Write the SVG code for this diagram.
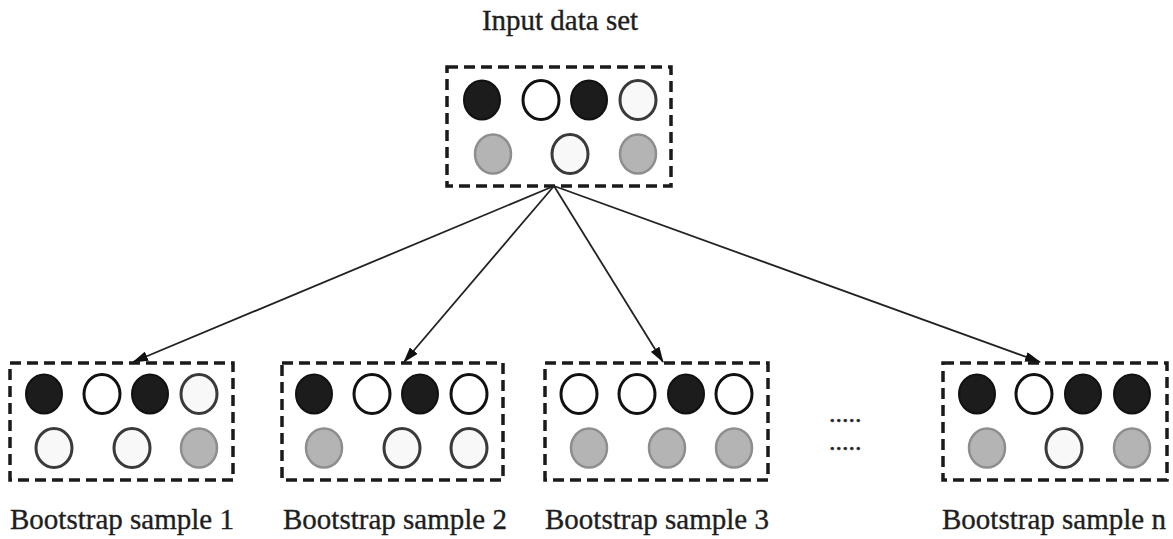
<svg xmlns="http://www.w3.org/2000/svg" width="1173" height="539" viewBox="0 0 1173 539">
  <style>
    .box { fill: none; stroke: #1a1a1a; stroke-width: 3.5; stroke-dasharray: 11 6; }
    .lbl { font-family: "Liberation Serif", "Times New Roman", serif; font-size: 29px; fill: #1e1e1e; stroke: #1e1e1e; stroke-width: 0.35; }
    .blk { fill: #1c1c1c; stroke: #111; stroke-width: 2; }
    .wht { fill: #fff; stroke: #111; stroke-width: 3; }
    .lgt { fill: #f8f8f8; stroke: #3a3a3a; stroke-width: 3; }
    .gry { fill: #b4b4b4; stroke: #8e8e8e; stroke-width: 2.5; }
    .edge { stroke: #222; stroke-width: 1.8; fill: none; marker-end: url(#arrow); }
    .dots { font-family: "Liberation Serif", serif; font-size: 26px; fill: #222; stroke: #222; stroke-width: 0.4; }
  </style>
  <defs>
    <marker id="arrow" viewBox="0 0 16 10" refX="15" refY="5" markerWidth="16" markerHeight="10" markerUnits="userSpaceOnUse" orient="auto">
      <path d="M0,0 L16,5 L0,10 Z" fill="#111"/>
    </marker>
  </defs>

  <rect width="1173" height="539" fill="#fff"/>

  <!-- source data set -->
  <g id="input">
    <text class="lbl" x="560" y="30" text-anchor="middle">Input data set</text>
    <rect class="box" x="447" y="67" width="224" height="119"/>
    <ellipse class="blk" cx="482" cy="100" rx="18" ry="19.5"/>
    <ellipse class="wht" cx="541" cy="100" rx="18" ry="19.5"/>
    <ellipse class="blk" cx="589" cy="100" rx="18" ry="19.5"/>
    <ellipse class="lgt" cx="638" cy="100" rx="18" ry="19.5"/>
    <ellipse class="gry" cx="493" cy="154" rx="18" ry="19.5"/>
    <ellipse class="lgt" cx="570" cy="154" rx="18" ry="19.5"/>
    <ellipse class="gry" cx="638" cy="154" rx="18" ry="19.5"/>
  </g>

  <!-- arrows from the data set to each sample -->
  <g id="connectors">
    <line class="edge" x1="554" y1="186" x2="133" y2="362"/>
    <line class="edge" x1="554" y1="186" x2="404" y2="362"/>
    <line class="edge" x1="554" y1="186" x2="663" y2="362"/>
    <line class="edge" x1="554" y1="186" x2="1040" y2="362"/>
  </g>

  <g id="sample1">
    <rect class="box" x="10" y="363" width="223" height="117"/>
    <ellipse class="blk" cx="44" cy="394" rx="18" ry="19.5"/>
    <ellipse class="wht" cx="102" cy="394" rx="18" ry="19.5"/>
    <ellipse class="blk" cx="150" cy="394" rx="18" ry="19.5"/>
    <ellipse class="lgt" cx="199" cy="394" rx="18" ry="19.5"/>
    <ellipse class="lgt" cx="54" cy="448" rx="18" ry="19.5"/>
    <ellipse class="lgt" cx="132" cy="448" rx="18" ry="19.5"/>
    <ellipse class="gry" cx="199" cy="448" rx="18" ry="19.5"/>
    <text class="lbl" x="10" y="529">Bootstrap sample 1</text>
  </g>

  <g id="sample2">
    <rect class="box" x="282" y="363" width="221" height="117"/>
    <ellipse class="blk" cx="314" cy="394" rx="18" ry="19.5"/>
    <ellipse class="wht" cx="372" cy="394" rx="18" ry="19.5"/>
    <ellipse class="blk" cx="420" cy="394" rx="18" ry="19.5"/>
    <ellipse class="wht" cx="469" cy="394" rx="18" ry="19.5"/>
    <ellipse class="gry" cx="324" cy="448" rx="18" ry="19.5"/>
    <ellipse class="lgt" cx="402" cy="448" rx="18" ry="19.5"/>
    <ellipse class="lgt" cx="469" cy="448" rx="18" ry="19.5"/>
    <text class="lbl" x="283" y="529">Bootstrap sample 2</text>
  </g>

  <g id="sample3">
    <rect class="box" x="545" y="363" width="223" height="117"/>
    <ellipse class="wht" cx="579" cy="394" rx="18" ry="19.5"/>
    <ellipse class="wht" cx="637" cy="394" rx="18" ry="19.5"/>
    <ellipse class="blk" cx="686" cy="394" rx="18" ry="19.5"/>
    <ellipse class="wht" cx="734" cy="394" rx="18" ry="19.5"/>
    <ellipse class="gry" cx="589" cy="448" rx="18" ry="19.5"/>
    <ellipse class="gry" cx="667" cy="448" rx="18" ry="19.5"/>
    <ellipse class="gry" cx="734" cy="448" rx="18" ry="19.5"/>
    <text class="lbl" x="545" y="529">Bootstrap sample 3</text>
  </g>

  <!-- ellipsis between sample 3 and sample n -->
  <g id="ellipsis">
    <text class="dots" x="829" y="422">.....</text>
    <text class="dots" x="829" y="450">.....</text>
  </g>

  <g id="samplen">
    <rect class="box" x="943" y="363" width="224" height="117"/>
    <ellipse class="blk" cx="977" cy="394" rx="18" ry="19.5"/>
    <ellipse class="wht" cx="1034" cy="394" rx="18" ry="19.5"/>
    <ellipse class="blk" cx="1083" cy="394" rx="18" ry="19.5"/>
    <ellipse class="blk" cx="1132" cy="394" rx="18" ry="19.5"/>
    <ellipse class="gry" cx="987" cy="448" rx="18" ry="19.5"/>
    <ellipse class="lgt" cx="1064" cy="448" rx="18" ry="19.5"/>
    <ellipse class="gry" cx="1132" cy="448" rx="18" ry="19.5"/>
    <text class="lbl" x="942" y="529">Bootstrap sample n</text>
  </g>
</svg>
